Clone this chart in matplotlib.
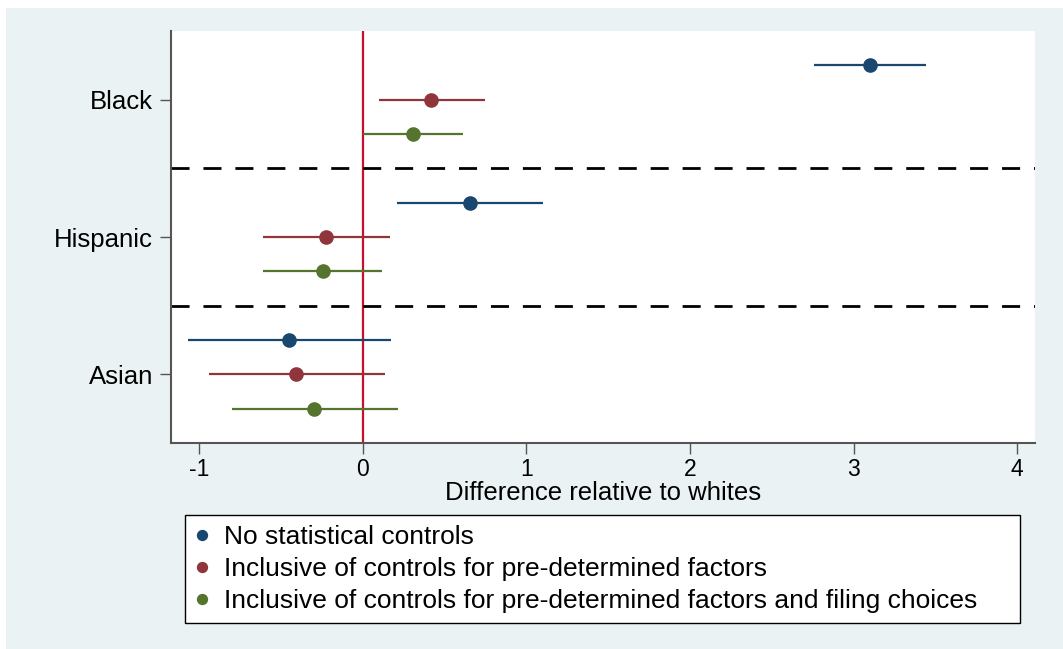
import matplotlib
matplotlib.use("Agg")
from matplotlib import pyplot as plt
from matplotlib.patches import Rectangle

plt.rcParams['font.family'] = ['Liberation Sans', 'DejaVu Sans']

groups = ['Black', 'Hispanic', 'Asian']
series = ['No statistical controls',
          'Inclusive of controls for pre-determined factors',
          'Inclusive of controls for pre-determined factors and filing choices']
colors = ['#1a476f', '#90353b', '#55752f']

# point estimates and CI bounds, one list per series (Black, Hispanic, Asian)
est_none = [3.10, 0.655, -0.45]
lo_none = [2.76, 0.21, -1.066]
hi_none = [3.44, 1.10, 0.173]

est_pre = [0.42, -0.225, -0.405]
lo_pre = [0.10, -0.61, -0.94]
hi_pre = [0.75, 0.165, 0.136]

est_all = [0.31, -0.245, -0.30]
lo_all = [0.0, -0.61, -0.80]
hi_all = [0.61, 0.12, 0.214]

estimates = [est_none, est_pre, est_all]
lows = [lo_none, lo_pre, lo_all]
highs = [hi_none, hi_pre, hi_all]

fig = plt.figure(figsize=(10.63, 6.49), dpi=100, facecolor='white')
# stata-like light background panel
fig.patches.append(Rectangle((6 / 1063, 0), 1, 1 - 8 / 649, transform=fig.transFigure,
                             facecolor='#eaf2f3', edgecolor='none', zorder=-10))

ax = fig.add_axes([171 / 1063, 1 - 443 / 649, (1035 - 171) / 1063, (443 - 31) / 649])
ax.set_facecolor('white')

for s in range(3):
    for g in range(3):
        ypos = g * 4 + s
        ax.hlines(ypos, lows[s][g], highs[s][g], color=colors[s], lw=1.6, zorder=3)
    ax.plot(estimates[s], [g * 4 + s for g in range(3)], 'o', color=colors[s],
            markersize=9.5, label=series[s], zorder=4)

ax.axvline(0, color='#c8102e', lw=1.6, zorder=2)
for yy in [3, 7]:
    ax.axhline(yy, color='black', lw=2, linestyle=(0, (6.5, 5)), zorder=2)

ax.set_xlim(-1.172, 4.109)
ax.set_ylim(11, -1)
ax.set_yticks([1, 5, 9])
ax.set_yticklabels(groups, fontsize=18.5)
ax.set_xticks([-1, 0, 1, 2, 3, 4])
ax.set_xticklabels(['-1', '0', '1', '2', '3', '4'], fontsize=16.5)
ax.tick_params(axis='both', length=8, width=1, color='#555555', pad=5)
ax.tick_params(axis='x', pad=3)
ax.set_xlabel('Difference relative to whites', fontsize=18.5, labelpad=0)

for side in ['top', 'right']:
    ax.spines[side].set_visible(False)
for side in ['left', 'bottom']:
    ax.spines[side].set_color('#555555')
    ax.spines[side].set_linewidth(1.5)

leg = fig.legend(loc='upper left',
                 bbox_to_anchor=(185 / 1063, 1 - 515 / 649 - 0.01, (1020 - 185) / 1063, 0.01),
                 mode='expand', fontsize=19, frameon=True, fancybox=False, edgecolor='black',
                 facecolor='white', framealpha=1,
                 handlelength=0.5, handletextpad=0.6, labelspacing=0.3, borderpad=0.38,
                 markerscale=0.75, borderaxespad=0)
leg.get_frame().set_linewidth(1.0)

fig.savefig('out.png', dpi=100, facecolor='white')
